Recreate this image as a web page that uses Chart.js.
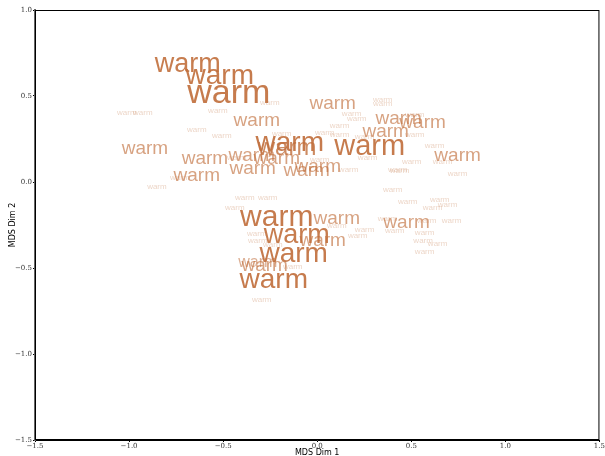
<!DOCTYPE html>
<html>
<head>
<meta charset="utf-8">
<script src="https://cdn.jsdelivr.net/npm/chart.js@4"></script>
<style>
  body { margin: 0; background: #fff; }
  #wrap { width: 605px; height: 456px; }
</style>
</head>
<body>
<div id="wrap"><canvas id="mds"></canvas></div>
<script>
// MDS coordinates of each "warm" label
const wordX = [
  -0.688, -0.518, -0.470, -0.146, -0.160, 0.279, -0.215, -0.109, -0.125, -0.231,
  -0.916, -0.597, -0.640, -0.321, 0.082, -0.343, -0.348, -0.056, 0.003, 0.433,
  0.560, 0.364, 0.746, 0.104, 0.029, -0.279, -0.316, 0.475, -0.215,
  -1.012, -0.927, -0.528, -0.252, -0.640, -0.507, -0.852, -0.730, -0.428, -0.189,
  0.348, 0.348, 0.183, 0.210, 0.518, 0.119, 0.040, 0.119, 0.252, 0.518,
  0.624, 0.013, 0.268, 0.502, 0.666, 0.167, 0.428, 0.438, 0.746, 0.401,
  -0.385, -0.263, -0.438, 0.481, 0.651, 0.613, 0.693, 0.374, 0.582, 0.714,
  0.252, 0.215, 0.412, 0.571, 0.563, 0.640, 0.571, 0.104, -0.321, -0.316,
  -0.236, -0.130, -0.295
];
const wordY = [
  0.686, 0.616, 0.517, 0.227, 0.198, 0.209, -0.203, -0.308, -0.419, -0.570,
  0.198, 0.140, 0.041, 0.360, 0.459, 0.081, 0.157, 0.070, 0.093, 0.372,
  0.349, 0.297, 0.157, -0.209, -0.337, -0.483, -0.465, -0.233, 0.140,
  0.401, 0.401, 0.413, 0.459, 0.302, 0.267, -0.029, 0.023, 0.140, 0.279,
  0.477, 0.453, 0.395, 0.366, 0.390, 0.326, 0.285, 0.273, 0.262, 0.273,
  0.209, 0.128, 0.140, 0.116, 0.116, 0.070, 0.070, 0.064, 0.047, -0.047,
  -0.093, -0.093, -0.151, -0.116, -0.105, -0.151, -0.134, -0.215, -0.227, -0.227,
  -0.279, -0.314, -0.285, -0.297, -0.343, -0.360, -0.407, -0.256, -0.302, -0.343,
  -0.366, -0.494, -0.686
];
// how strongly each label is weighted (drives its size and shade)
const wordWeight = [
  27, 28, 34, 28, 24, 29, 30, 27, 28, 28,
  19, 19, 19, 19, 19, 19, 19, 19, 19, 19,
  19, 19, 19, 19, 19, 19, 16, 19, 19,
  8, 8, 8, 8, 8, 8, 8, 8, 8, 8,
  8, 8, 8, 8, 8, 8, 8, 8, 8, 8,
  8, 8, 8, 8, 8, 8, 8, 8, 8, 8,
  8, 8, 8, 8, 8, 8, 8, 8, 8, 8,
  8, 8, 8, 8, 8, 8, 8, 8, 8, 8,
  8, 8, 8
];
const wordText = 'warm';
const axisTicks = [-1.5, -1.0, -0.5, 0.0, 0.5, 1.0, 1.5];

const points = wordX.map((x, i) => ({ x: x, y: wordY[i], w: wordWeight[i] }));

function fmt(v) {
  return (v < 0 ? '\u2212' : '') + Math.abs(v).toFixed(1);
}

// draws the labels at the positions of the (hidden) scatter points
const wordPlugin = {
  id: 'words',
  afterDatasetsDraw(chart) {
    const c = chart.ctx;
    const meta = chart.getDatasetMeta(0);
    const order = meta.data.map((el, i) => i).sort((a, b) => wordWeight[a] - wordWeight[b]);
    c.save();
    c.beginPath();
    c.rect(chart.chartArea.left, chart.chartArea.top, chart.chartArea.width, chart.chartArea.height);
    c.clip();
    c.textAlign = 'center';
    c.textBaseline = 'alphabetic';
    order.forEach(i => {
      const el = meta.data[i];
      const w = wordWeight[i];
      const alpha = Math.min(0.92, 0.3 + 0.032 * (w - 8));
      c.font = w + 'px "Liberation Sans", Arial, sans-serif';
      c.fillStyle = 'rgba(193,112,62,' + alpha + ')';
      // centre the x-height of the word on the point
      c.fillText(wordText, el.x, el.y + 0.3 * w);
    });
    c.restore();
    // frame
    const a = chart.chartArea;
    c.save();
    c.strokeStyle = '#000';
    c.lineWidth = 1;
    c.strokeRect(a.left + 0.5, a.top + 0.5, a.width - 1, a.height - 1);
    c.restore();
  }
};

const ctx = document.getElementById('mds').getContext('2d');
const mdsChart = new Chart(ctx, {
  type: 'scatter',
  data: {
    datasets: [{
      data: points,
      pointRadius: 0,
      pointHoverRadius: 0
    }]
  },
  options: {
    responsive: true,
    maintainAspectRatio: false,
    animation: false,
    events: [],
    layout: { padding: { top: 10, right: 5, left: 0, bottom: 0 }, autoPadding: false },
    plugins: { legend: { display: false }, tooltip: { enabled: false } },
    scales: {
      x: {
        type: 'linear',
        min: -1.5, max: 1.5,
        afterBuildTicks: s => { s.ticks = axisTicks.map(v => ({ value: v })); },
        afterFit: s => { s.height = 16; },
        grid: { drawOnChartArea: false, tickLength: 2, color: '#000' },
        border: { color: '#000' },
        ticks: {
          callback: v => fmt(v),
          font: { family: '"DejaVu Serif", serif', size: 7 },
          color: '#333', padding: 0, maxRotation: 0, autoSkip: false
        },
        title: {
          display: true, text: 'MDS Dim 1',
          font: { family: '"DejaVu Sans", sans-serif', size: 8 },
          color: '#000', padding: { top: 0, bottom: -2 }
        }
      },
      y: {
        type: 'linear',
        min: -1.5, max: 1.0,
        afterBuildTicks: s => { s.ticks = axisTicks.filter(v => v <= 1.0).map(v => ({ value: v })); },
        afterFit: s => { s.width = 35; },
        grid: { drawOnChartArea: false, tickLength: 2, color: '#000' },
        border: { color: '#666', width: 2 },
        ticks: {
          callback: v => fmt(v),
          font: { family: '"DejaVu Serif", serif', size: 7 },
          color: '#333', padding: 1, autoSkip: false
        },
        title: {
          display: true, text: 'MDS Dim 2',
          font: { family: '"DejaVu Sans", sans-serif', size: 8 },
          color: '#000', padding: { top: 8, bottom: 0 }
        }
      }
    }
  },
  plugins: [wordPlugin]
});
</script>
</body>
</html>
